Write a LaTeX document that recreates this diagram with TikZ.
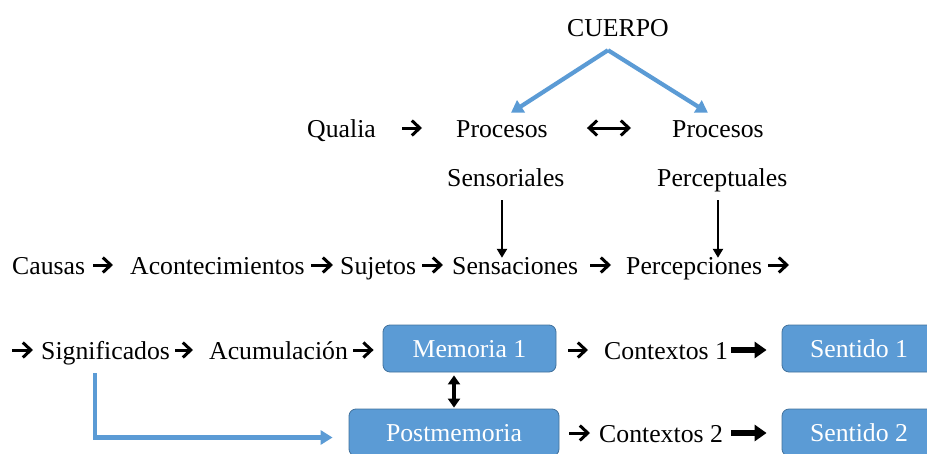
\documentclass[tikz,border=0pt]{standalone}
\usepackage{fontspec}
\setmainfont{Liberation Serif}
\usetikzlibrary{arrows.meta}
\definecolor{boxblue}{HTML}{5B9BD5}
\definecolor{boxedge}{HTML}{41719C}

\begin{document}
\begin{tikzpicture}[x=1pt,y=-1pt,
  word/.style={font=\fontsize{25.75}{30}\selectfont, inner sep=0pt, text height=21pt, text depth=3pt, anchor=west},
  box/.style={word, anchor=center, text=white, fill=boxblue, draw=boxedge, line width=0.8pt, rounded corners=7pt, minimum height=47pt},
  txtarr/.style={line width=3pt, -{Straight Barb[length=8pt,width=15pt]}},
  dbltxt/.style={line width=3pt, {Straight Barb[length=8pt,width=15pt]}-{Straight Barb[length=8pt,width=15pt]}},
  heavyarr/.style={line width=6pt, -{Triangle[length=12pt,width=16pt]}},
  downarr/.style={line width=2.6pt, -{Triangle[length=9pt,width=10pt]}},
  dblarr/.style={line width=4.5pt, {Triangle[length=9pt,width=12pt]}-{Triangle[length=9pt,width=12pt]}},
  bluearr/.style={draw=boxblue, line width=4.2pt, -{Triangle[length=12pt,width=14pt]}}]

\useasboundingbox (0,0) rectangle (927,453);
\clip (0,0) rectangle (927,453);

\node [word] (cuerpo) at (567,27) {CUERPO};
\node [word] (qualia) at (307,128) {Qualia};
\node [word] (procS) at (456,128) {Procesos};
\node [word] (procP) at (672,128) {Procesos};
\node [word] (sensoriales) at (447,177) {Sensoriales};
\node [word] (perceptuales) at (657,177) {Perceptuales};

\node [word] (causas) at (12,265) {Causas};
\node [word] (aconte) at (130,265) {Acontecimientos};
\node [word] (sujetos) at (340,265) {Sujetos};
\node [word] (sensaciones) at (452,265) {Sensaciones};
\node [word] (percepciones) at (626,265) {Percepciones};
\coordinate (fin) at (789,265);

\coordinate (inicio) at (12,350);
\node [word] (signif) at (41,350) {Significados};
\node [word] (acum) at (209,350) {Acumulación};
\node [box, minimum width=173pt] (mem) at (469.5,348.5) {Memoria 1};
\node [word] (ctx1) at (604,350) {Contextos 1};
\node [box, minimum width=154pt] (sent1) at (859,348.5) {Sentido 1};

\node [box, minimum width=210pt] (post) at (454,432.5) {Postmemoria};
\node [word] (ctx2) at (599,433) {Contextos 2};
\node [box, minimum width=154pt] (sent2) at (859,432.5) {Sentido 2};

\coordinate (apex) at ([xshift=-10pt,yshift=-11pt]cuerpo.south);
\draw [bluearr] (apex) -- ([xshift=9pt,yshift=3pt]procS.north);
\draw [bluearr] (apex) -- ([xshift=-10pt,yshift=3pt]procP.north);

\draw [txtarr, shorten <=26pt, shorten >=34pt] (qualia) -- (procS);
\draw [dbltxt, shorten <=39pt, shorten >=41pt] (procS) -- (procP);
\draw [downarr, shorten <=11pt, shorten >=-5pt] (sensoriales.south -| procS) -- (sensaciones.north -| procS);
\draw [downarr, shorten <=11pt, shorten >=-5pt] (perceptuales.south -| procP) -- (percepciones.north -| procP);

\draw [txtarr, shorten <=8pt, shorten >=17pt] (causas) -- (aconte);
\draw [txtarr, shorten <=6pt, shorten >=7pt] (aconte) -- (sujetos);
\draw [txtarr, shorten <=6pt, shorten >=9pt] (sujetos) -- (sensaciones);
\draw [txtarr, shorten <=12pt, shorten >=15pt] (sensaciones) -- (percepciones);
\draw [txtarr, shorten <=6pt] (percepciones) -- (fin);

\draw [txtarr, shorten >=8pt] (inicio) -- (signif);
\draw [txtarr, shorten <=5pt, shorten >=16pt] (signif) -- (acum);
\draw [txtarr, shorten <=5pt, shorten >=9pt] (acum.east) -- (acum.east -| mem.west);
\draw [txtarr, shorten <=12pt, shorten >=16pt] (mem.east |- ctx1.west) -- (ctx1.west);
\draw [heavyarr, shorten <=3pt, shorten >=15pt] (ctx1.east) -- (ctx1.east -| sent1.west);

\draw [dblarr, shorten <=3pt, shorten >=1pt] (mem.south -| post) -- (post.north);
\draw [bluearr, shorten >=16pt] ([xshift=54pt,yshift=-11pt]signif.south west) |- ([yshift=-5pt]post.west);

\draw [txtarr, shorten <=10pt, shorten >=9pt] (post.east |- ctx2.west) -- (ctx2.west);
\draw [heavyarr, shorten <=8pt, shorten >=15pt] (ctx2.east) -- (ctx2.east -| sent2.west);
\end{tikzpicture}
\end{document}
